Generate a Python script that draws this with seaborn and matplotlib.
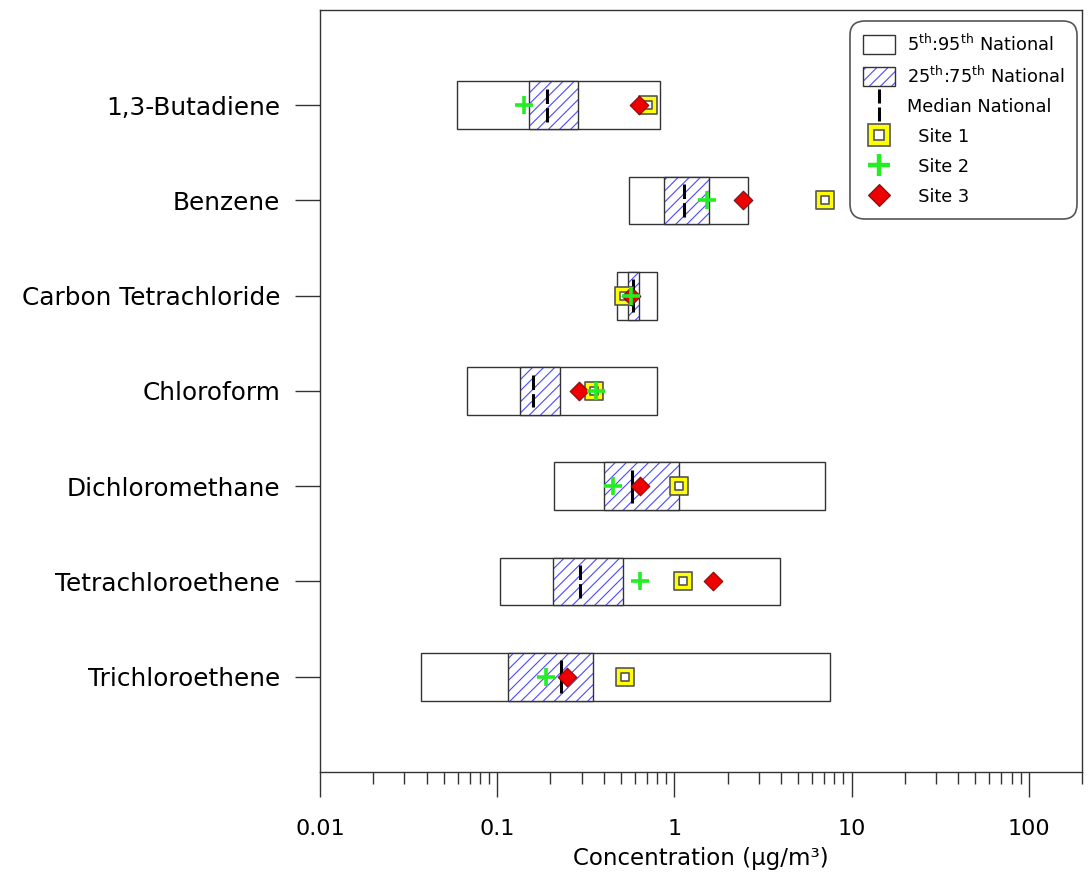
import numpy as np
import pandas as pd
import matplotlib
matplotlib.use("Agg")
import matplotlib.pyplot as plt
import seaborn as sns
from matplotlib.patches import Patch
from matplotlib.lines import Line2D
from matplotlib.path import Path

# ---------------- data ----------------
categories = ["1,3-Butadiene", "Benzene", "Carbon Tetrachloride", "Chloroform",
              "Dichloromethane", "Tetrachloroethene", "Trichloroethene"]
p5 = [0.059, 0.556, 0.473, 0.0675, 0.210, 0.104, 0.0372]
p25 = [0.151, 0.877, 0.549, 0.135, 0.400, 0.2055, 0.115]
p50 = [0.190, 1.14, 0.586, 0.160, 0.575, 0.293, 0.230]
p75 = [0.286, 1.56, 0.631, 0.225, 1.06, 0.514, 0.349]
p95 = [0.833, 2.59, 0.800, 0.800, 7.10, 3.95, 7.59]
site1 = [0.71, 7.08, 0.519, 0.353, 1.06, 1.12, 0.528]
site2 = [0.141, 1.53, 0.566, 0.363, 0.451, 0.644, 0.188]
site3 = [0.633, 2.45, 0.570, 0.291, 0.640, 1.66, 0.247]
median_dashed = [True, True, True, True, False, True, False]
xticks = [0.01, 0.1, 1, 10, 100]
xtick_labels = ["0.01", "0.1", "1", "10", "100"]

# ---------------- style ----------------
sns.set_style("ticks")
plt.rcParams["font.family"] = ["DejaVu Sans"]
plt.rcParams["mathtext.fontset"] = "dejavusans"
plt.rcParams["hatch.linewidth"] = 0.8
plt.rcParams["text.color"] = "black"
plt.rcParams["axes.labelcolor"] = "black"
plt.rcParams["xtick.labelcolor"] = "black"
plt.rcParams["ytick.labelcolor"] = "black"

edge = "#333333"
hatch_col = "#4a4aff"
green = "#22ee22"
red = "#ee0000"
yellow = "#ffff00"

fig = plt.figure(figsize=(10.89, 8.74), dpi=100)
ax = fig.add_axes([0.2938, 0.1167, 0.6998, 0.8719])

pos = np.arange(len(categories))
p5a, p25a, p50a, p75a, p95a = map(np.asarray, (p5, p25, p50, p75, p95))
h = 0.5

# 5th-95th boxes
ax.barh(pos, p95a - p5a, left=p5a, height=h, color="white",
        edgecolor=edge, linewidth=1.0, zorder=2)
# 25th-75th hatched boxes
ax.barh(pos, p75a - p25a, left=p25a, height=h, color="white",
        edgecolor=hatch_col, hatch="///", linewidth=0, zorder=3)
ax.barh(pos, p75a - p25a, left=p25a, height=h, fill=False,
        edgecolor=edge, linewidth=1.0, zorder=4)

# medians
for i in range(len(categories)):
    ls = (0, (4.75, 1.35)) if median_dashed[i] else "solid"
    ax.vlines(p50a[i], pos[i] - 0.173, pos[i] + 0.173, colors="black",
              linewidth=2.2, linestyles=ls, zorder=5)

# site markers
sns.scatterplot(x=site1, y=pos, marker="s", s=150, color=yellow,
                edgecolor="#555555", linewidth=1.2, zorder=6, ax=ax, legend=False)
sns.scatterplot(x=site1, y=pos, marker="s", s=32, color="white",
                edgecolor="#555555", linewidth=1.2, zorder=7, ax=ax, legend=False)
sns.scatterplot(x=site3, y=pos, marker="D", s=90, color=red,
                edgecolor="#7a1010", linewidth=0.8, zorder=8, ax=ax, legend=False)
sns.scatterplot(x=site2, y=pos, marker="+", s=185, color=green,
                linewidth=2.6, zorder=9, ax=ax, legend=False)

# axes
ax.set_xscale("log")
ax.set_xlim(0.01, 200)
ax.set_ylim(len(categories), -1)
ax.set_xticks(xticks)
ax.set_xticklabels(xtick_labels)
ax.set_yticks(pos)
ax.set_yticklabels(categories)
ax.tick_params(axis="y", length=18, width=1, color=edge, pad=10.5,
               labelsize=17.8, direction="out")
ax.tick_params(axis="x", which="major", length=18, width=1, color=edge,
               pad=16, labelsize=16, direction="out")
ax.tick_params(axis="x", which="minor", length=8.6, width=1, color=edge,
               direction="out")
for s in ax.spines.values():
    s.set_color(edge)
    s.set_linewidth(1.0)
ax.set_xlabel("Concentration (μg/m³)", fontsize=16.5, labelpad=5.5)
ax.set_ylabel("")

# legend
med_path = Path([(0, -1), (0, -0.12), (0, 0.12), (0, 1)],
                [Path.MOVETO, Path.LINETO, Path.MOVETO, Path.LINETO])
handles = [
    Patch(facecolor="white", edgecolor=edge, linewidth=1.0),
    (Patch(facecolor="white", edgecolor=hatch_col, hatch="///", linewidth=0),
     Patch(fill=False, edgecolor=edge, linewidth=1.0)),
    Line2D([], [], marker=med_path, linestyle="None", color="black",
           markersize=23, markeredgewidth=2.2),
    (Line2D([], [], marker="s", linestyle="None", markersize=15.5,
            markerfacecolor=yellow, markeredgecolor="#555555", markeredgewidth=1.2),
     Line2D([], [], marker="s", linestyle="None", markersize=7,
            markerfacecolor="white", markeredgecolor="#555555", markeredgewidth=1.2)),
    Line2D([], [], marker="+", linestyle="None", markersize=16.5,
           color=green, markeredgewidth=3.2),
    Line2D([], [], marker="D", linestyle="None", markersize=11.5,
           markerfacecolor=red, markeredgecolor="#7a1010", markeredgewidth=0.8),
]
labels = [r"5$^{\rm th}$:95$^{\rm th}$ National",
          r"25$^{\rm th}$:75$^{\rm th}$ National",
          "Median National",
          "  Site 1", "  Site 2", "  Site 3"]
leg = ax.legend(handles, labels, loc="upper right",
                bbox_to_anchor=(0.9934, 0.9856), borderaxespad=0,
                fontsize=12.8, handlelength=1.8, handleheight=1.23,
                handletextpad=0.66, borderpad=0.7, labelspacing=0.6,
                frameon=True, fancybox=True, framealpha=1)
fr = leg.get_frame()
fr.set_edgecolor("#555555")
fr.set_linewidth(1.2)
fr.set_boxstyle("round,pad=0,rounding_size=0.8")

fig.savefig("out.png", dpi=100)
